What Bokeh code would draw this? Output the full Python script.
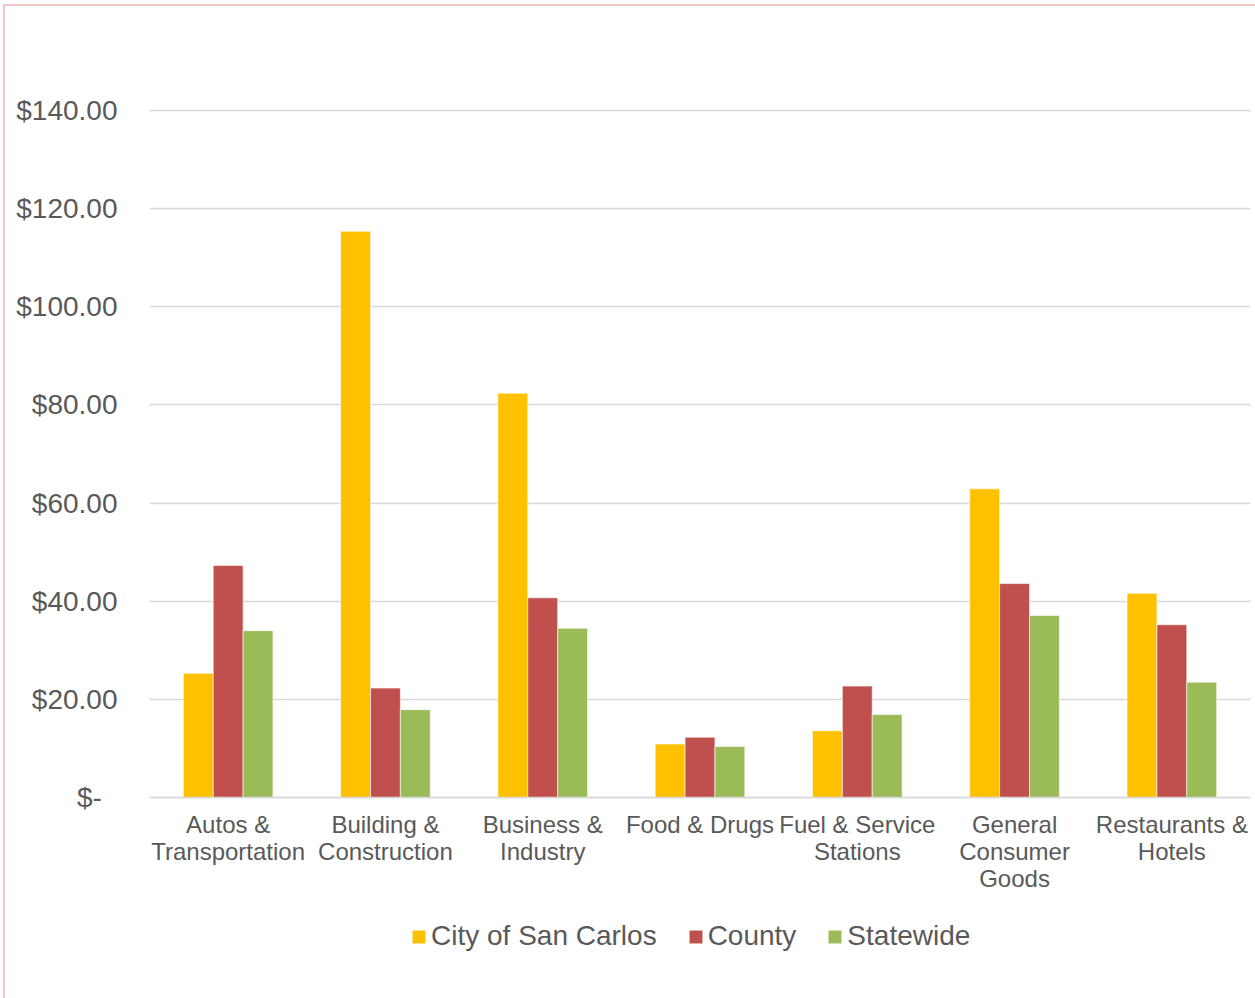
from bokeh.plotting import figure
from bokeh.models import (ColumnDataSource, FactorRange, Range1d, FixedTicker,
                          CustomJSTickFormatter, Legend, LegendItem)
from bokeh.transform import dodge
from bokeh.embed import file_html
from bokeh.resources import INLINE

categories = ["Autos &\nTransportation", "Building &\nConstruction", "Business &\nIndustry",
              "Food & Drugs", "Fuel & Service\nStations", "General\nConsumer\nGoods",
              "Restaurants &\nHotels"]
city = [25.3, 115.4, 82.4, 10.9, 13.6, 62.9, 41.6]
county = [47.3, 22.3, 40.7, 12.3, 22.7, 43.6, 35.2]
statewide = [34.0, 17.9, 34.5, 10.4, 16.9, 37.1, 23.5]
series_names = ["City of San Carlos", "County", "Statewide"]
y_ticks = [0, 20, 40, 60, 80, 100, 120, 140]

colors = ["#FFC000", "#C0504D", "#9BBB59"]
text_color = "#595959"
font = "Liberation Sans"

source = ColumnDataSource(dict(cat=categories, city=city, county=county, statewide=statewide))

# frame spans the full chart height; the category axis sits at value 0
p = figure(x_range=FactorRange(*categories), y_range=Range1d(-40.96, 161.19),
           frame_width=1101, frame_height=992, output_backend="svg", toolbar_location=None,
           min_border_left=144, min_border_right=5, min_border_top=0, min_border_bottom=0)
p.styles = {"border-top": "2px solid #F2C6C8", "border-left": "2px solid #F2C6C8",
            "margin-left": "3px", "margin-top": "4px"}
p.outline_line_color = None
p.background_fill_color = "white"
p.border_fill_color = "white"

bw = 0.19
offsets = [-bw, 0, bw]
fields = ["city", "county", "statewide"]
renderers = []
for f, off, c in zip(fields, offsets, colors):
    r = p.vbar(x=dodge("cat", off, range=p.x_range), top=f, width=bw, source=source,
               fill_color=c, line_color="white", line_alpha=0.6, line_width=1)
    renderers.append(r)

# y axis
p.yaxis.ticker = FixedTicker(ticks=y_ticks)
p.yaxis.formatter = CustomJSTickFormatter(
    code="return tick == 0 ? '$-\u00a0\u00a0' : '$' + tick.toFixed(2);")
p.yaxis.axis_line_color = None
p.yaxis.major_tick_line_color = None
p.yaxis.minor_tick_line_color = None
p.yaxis.major_label_standoff = 26
p.yaxis.major_label_text_font = font
p.yaxis.major_label_text_font_size = "28px"
p.yaxis.major_label_text_color = text_color

# x axis
p.xaxis.fixed_location = 0
p.xaxis.axis_line_color = "#D9D9D9"
p.xaxis.axis_line_width = 1.5
p.xaxis.major_tick_line_color = None
p.xaxis.minor_tick_line_color = None
p.xaxis.major_label_standoff = 8
p.xaxis.major_label_text_font = font
p.xaxis.major_label_text_font_size = "24px"
p.xaxis.major_label_text_color = text_color
p.xaxis.major_label_text_line_height = 1.0

p.xgrid.grid_line_color = None
p.ygrid.ticker = FixedTicker(ticks=y_ticks)
p.ygrid.grid_line_color = "#D9D9D9"
p.ygrid.grid_line_width = 1.5

legend = Legend(items=[LegendItem(label=n, renderers=[r]) for n, r in zip(series_names, renderers)],
                orientation="horizontal", location=(261, 46),
                label_text_font=font, label_text_font_size="28px", label_text_color=text_color,
                glyph_width=17, glyph_height=17, label_standoff=4, spacing=30,
                padding=0, margin=0, border_line_color=None, background_fill_alpha=0)
p.add_layout(legend, "center")

open("out.html", "w").write(file_html(p, INLINE))
